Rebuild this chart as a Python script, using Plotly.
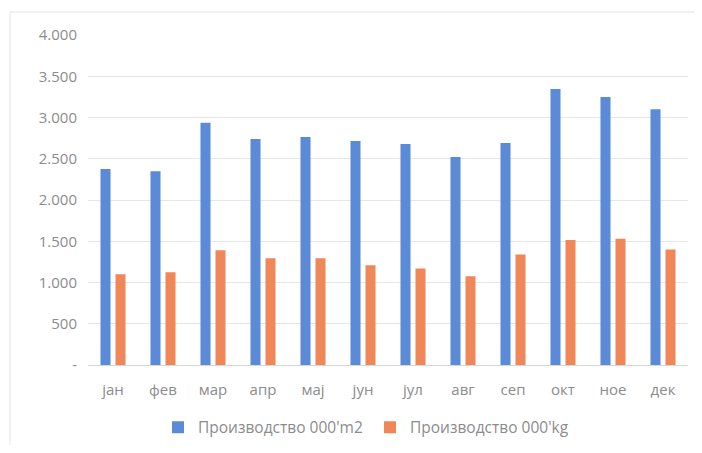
import plotly.graph_objects as go

months = ["јан", "фев", "мар", "апр", "мај", "јун", "јул", "авг", "сеп", "окт", "ное", "дек"]
prod_m2 = [2375, 2350, 2935, 2740, 2765, 2715, 2680, 2520, 2690, 3345, 3250, 3100]
prod_kg = [1100, 1125, 1390, 1295, 1295, 1210, 1170, 1075, 1340, 1515, 1530, 1400]
series_names = ["Производство 000'm2", "Производство 000'kg"]
y_tickvals = [0, 500, 1000, 1500, 2000, 2500, 3000, 3500, 4000]
y_ticktext = ["-", "500", "1.000", "1.500", "2.000", "2.500", "3.000", "3.500", "4.000"]

blue = "#5b8bd6"
orange = "#ef8758"
grey_text = "#8c8c8c"

fig = go.Figure()
fig.add_trace(go.Bar(x=months, y=prod_m2, name=series_names[0], legend="legend",
                     marker=dict(color=blue, line=dict(width=0))))
fig.add_trace(go.Bar(x=months, y=prod_kg, name=series_names[1], legend="legend2",
                     marker=dict(color=orange, line=dict(width=0))))

# page has an 8px body margin, so the figure is placed 8px right/down
L, T, PW, PH = 80, 27, 600, 330
W, H = 694, 437

border = "#e3e3e3"
leg_common = dict(orientation="h", xanchor="left", y=-0.19, yanchor="middle",
                  font=dict(size=15.5, color=grey_text), itemwidth=30,
                  bgcolor="rgba(0,0,0,0)")
fig.update_layout(
    width=W, height=H,
    margin=dict(l=L, r=W - L - PW, t=T, b=H - T - PH, autoexpand=False),
    paper_bgcolor="white", plot_bgcolor="white",
    barmode="group", bargap=0.4, bargroupgap=0.33,
    font=dict(family="Open Sans", size=15, color=grey_text),
    showlegend=True,
    legend=dict(x=0.1167, **leg_common),
    legend2=dict(x=0.470, **leg_common),
    xaxis=dict(showgrid=False, showline=True, linecolor="#d6d6d6", linewidth=1,
               ticks="", tickfont=dict(size=15, color=grey_text), ticklabelstandoff=11,
               fixedrange=True),
    yaxis=dict(range=[0, 4000], tickvals=y_tickvals, ticktext=y_ticktext,
               showgrid=True, gridcolor="#e6e6e6", gridwidth=1, zeroline=False,
               showline=False, ticks="", tickfont=dict(size=15, color=grey_text),
               ticklabelstandoff=10, fixedrange=True),
    shapes=[
        dict(type="line", xref="paper", yref="paper",
             x0=(10 - 8 - L) / PW, x1=(W - L) / PW, y0=(PH + T - 4) / PH, y1=(PH + T - 4) / PH,
             line=dict(color=border, width=1)),
        dict(type="line", xref="paper", yref="paper",
             x0=(10 - 8 - L) / PW, x1=(10 - 8 - L) / PW, y0=(PH + T - 4) / PH, y1=-(H - T - PH) / PH,
             line=dict(color=border, width=1)),
    ],
)

fig.write_html("out.html")
